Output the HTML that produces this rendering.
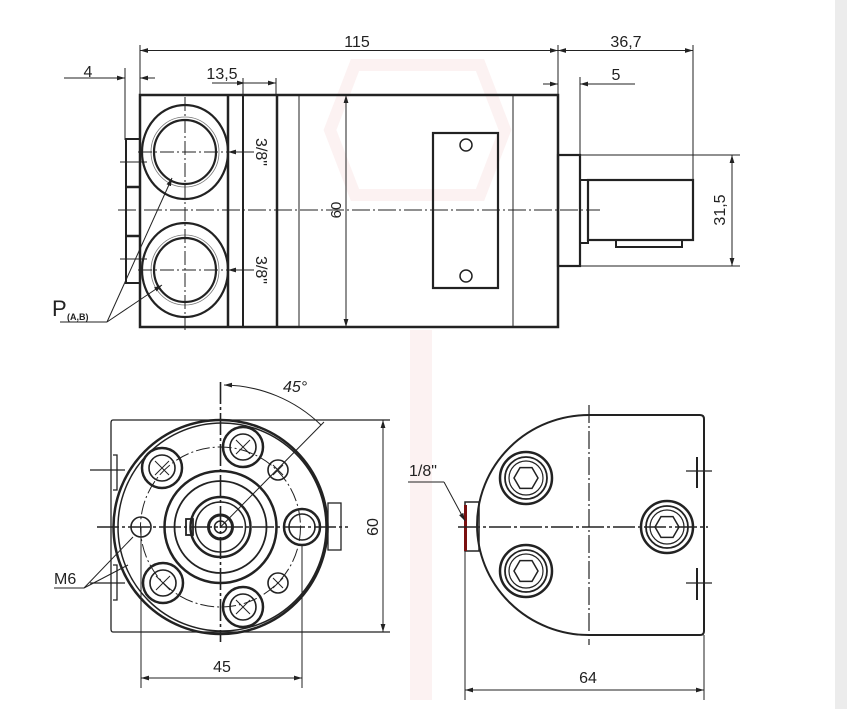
<!DOCTYPE html>
<html><head><meta charset="utf-8"><style>
html,body{margin:0;padding:0;background:#fff;}
svg{display:block}
text{font-family:"Liberation Sans",sans-serif;fill:#222}
</style></head><body>
<svg width="847" height="709" viewBox="0 0 847 709" xmlns="http://www.w3.org/2000/svg">
<defs>
<marker id="a" viewBox="0 0 10 10" refX="10" refY="5" markerWidth="8" markerHeight="8" orient="auto-start-reverse" markerUnits="userSpaceOnUse"><path d="M0,2 L10,5 L0,8z" fill="#222"/></marker>
</defs>
<rect x="0" y="0" width="847" height="709" fill="#fff"/>
<rect x="835" y="0" width="12" height="709" fill="#ececec"/>
<g opacity="0.05" fill="none" stroke="#c00" stroke-width="12">
<path d="M355,65 L480,65 L505,130 L480,195 L355,195 L330,130Z"/>
</g>
<g opacity="0.05" fill="#c00"><rect x="410" y="330" width="22" height="370"/></g>
<g stroke="#222" fill="none" stroke-linecap="butt">
<line x1="140" y1="45" x2="140" y2="95" stroke-width="1"/>
<line x1="558" y1="45" x2="558" y2="95" stroke-width="1"/>
<line x1="693" y1="45" x2="693" y2="181" stroke-width="1"/>
<line x1="140" y1="50.5" x2="558" y2="50.5" stroke-width="1" marker-start="url(#a)" marker-end="url(#a)"/>
<line x1="558" y1="50.5" x2="693" y2="50.5" stroke-width="1" marker-start="url(#a)" marker-end="url(#a)"/>
<line x1="125" y1="68" x2="125" y2="140" stroke-width="1"/>
<line x1="64" y1="78" x2="125" y2="78" stroke-width="1" marker-end="url(#a)"/>
<line x1="155" y1="78" x2="140" y2="78" stroke-width="1" marker-end="url(#a)"/>
<line x1="212" y1="83" x2="245" y2="83" stroke-width="1" marker-end="url(#a)"/>
<line x1="260" y1="83" x2="245" y2="83" stroke-width="1"/>
<line x1="260" y1="83" x2="276" y2="83" stroke-width="1" marker-end="url(#a)"/>
<line x1="243" y1="78" x2="243" y2="95" stroke-width="1"/>
<line x1="276" y1="78" x2="276" y2="95" stroke-width="1"/>
<line x1="543" y1="84" x2="558" y2="84" stroke-width="1" marker-end="url(#a)"/>
<line x1="635" y1="84" x2="580" y2="84" stroke-width="1" marker-end="url(#a)"/>
<line x1="580" y1="77" x2="580" y2="155" stroke-width="1"/>
<rect x="140" y="95" width="418" height="232" stroke-width="2.5"/>
<line x1="228" y1="95" x2="228" y2="327" stroke-width="2.5"/>
<line x1="243" y1="95" x2="243" y2="327" stroke-width="2"/>
<line x1="277" y1="95" x2="277" y2="327" stroke-width="2.5"/>
<line x1="299" y1="95" x2="299" y2="327" stroke-width="1"/>
<line x1="513" y1="95" x2="513" y2="327" stroke-width="1"/>
<path d="M140,139 L126,139 L126,283 L140,283" stroke-width="2"/>
<line x1="126" y1="187" x2="140" y2="187" stroke-width="2.5"/>
<line x1="126" y1="236" x2="140" y2="236" stroke-width="2.5"/>
<line x1="120" y1="162" x2="147" y2="162" stroke-width="1"/>
<line x1="120" y1="259" x2="147" y2="259" stroke-width="1"/>
<ellipse cx="185" cy="152" rx="43" ry="47" stroke-width="2.2"/>
<ellipse cx="185" cy="152" rx="31" ry="32" stroke-width="2.2"/>
<ellipse cx="185" cy="152" rx="34" ry="35" stroke-width="0.8" stroke="#777"/>
<ellipse cx="185" cy="270" rx="43" ry="47" stroke-width="2.2"/>
<ellipse cx="185" cy="270" rx="31" ry="32" stroke-width="2.2"/>
<ellipse cx="185" cy="270" rx="34" ry="35" stroke-width="0.8" stroke="#777"/>
<line x1="185" y1="97" x2="185" y2="330" stroke-width="1" stroke-dasharray="14,3,2,3"/>
<line x1="138" y1="152" x2="228" y2="152" stroke-width="1" stroke-dasharray="14,3,2,3"/>
<line x1="138" y1="270" x2="228" y2="270" stroke-width="1" stroke-dasharray="14,3,2,3"/>
<line x1="254" y1="152" x2="228" y2="152" stroke-width="1" marker-end="url(#a)"/>
<line x1="254" y1="270" x2="228" y2="270" stroke-width="1" marker-end="url(#a)"/>
<line x1="60" y1="322" x2="107" y2="322" stroke-width="1"/>
<line x1="107" y1="322" x2="172" y2="178" stroke-width="1" marker-end="url(#a)"/>
<line x1="107" y1="322" x2="162" y2="285" stroke-width="1" marker-end="url(#a)"/>
<line x1="118" y1="210" x2="600" y2="210" stroke-width="1" stroke-dasharray="18,3,2,3"/>
<line x1="346" y1="95" x2="346" y2="327" stroke-width="1" marker-start="url(#a)" marker-end="url(#a)"/>
<rect x="433" y="133" width="65" height="155" stroke-width="2.2"/>
<circle cx="466" cy="145" r="6" stroke-width="1.5"/>
<circle cx="466" cy="276" r="6" stroke-width="1.5"/>
<rect x="558" y="155" width="22" height="111" stroke-width="2.2"/>
<rect x="580" y="180" width="8" height="63" stroke-width="2"/>
<rect x="588" y="180" width="105" height="60" stroke-width="2.2"/>
<rect x="616" y="240" width="66" height="7" stroke-width="2"/>
<line x1="580" y1="155" x2="740" y2="155" stroke-width="1"/>
<line x1="580" y1="266" x2="740" y2="266" stroke-width="1"/>
<line x1="732" y1="155" x2="732" y2="266" stroke-width="1" marker-start="url(#a)" marker-end="url(#a)"/>

<path d="M390,420 L113,420 Q111,420 111,423 L111,629 Q111,632 113,632 L390,632" stroke-width="1.3"/>
<path d="M113,455 L117,455 L117,490 L113,490 M113,565 L117,565 L117,600 L113,600" stroke-width="1.3"/>
<line x1="90" y1="470" x2="125" y2="470" stroke-width="1.3"/>
<line x1="90" y1="583" x2="125" y2="583" stroke-width="1.3"/>
<rect x="328" y="503" width="13" height="47" stroke-width="1.3"/>
<circle cx="220.5" cy="527" r="107" stroke-width="2.5"/>
<circle cx="222" cy="527" r="104" stroke-width="1.5"/>
<circle cx="220.5" cy="527" r="80" stroke-width="1" stroke-dasharray="14,3,2,3"/>
<circle cx="220.5" cy="527" r="56" stroke-width="2.5"/>
<circle cx="220.5" cy="527" r="46" stroke-width="1.8"/>
<circle cx="220.5" cy="527" r="30" stroke-width="2.5"/>
<circle cx="220.5" cy="527" r="25" stroke-width="1.5"/>
<circle cx="220.5" cy="527" r="12" stroke-width="3"/>
<circle cx="220.5" cy="527" r="6" stroke-width="1.5"/>
<rect x="186" y="519" width="7" height="16" stroke-width="1.8"/>
<g stroke-width="2.5">
<circle cx="162" cy="468" r="20"/><circle cx="243" cy="447" r="20"/>
<circle cx="163" cy="583" r="20"/><circle cx="243" cy="607" r="20"/>
<circle cx="302" cy="527" r="18"/>
</g>
<g stroke-width="1.6">
<circle cx="162" cy="468" r="13"/><circle cx="243" cy="447" r="13"/>
<circle cx="163" cy="583" r="13"/><circle cx="243" cy="607" r="13"/>
<circle cx="302" cy="527" r="13"/>
<circle cx="278" cy="470" r="10"/><circle cx="278" cy="583" r="10"/><circle cx="141" cy="527" r="10"/>
</g>
<g stroke-width="1">
<path d="M155,461 L169,475 M169,461 L155,475 M236,440 L250,454 M250,440 L236,454 M156,576 L170,590 M170,576 L156,590 M236,600 L250,614 M250,600 L236,614 M273,465 L283,475 M283,465 L273,475 M273,578 L283,588 M283,578 L273,588"/>
</g>
<line x1="220.5" y1="382" x2="220.5" y2="642" stroke-width="1.6" stroke-dasharray="22,3,3,3"/>
<line x1="97" y1="527" x2="348" y2="527" stroke-width="1.6" stroke-dasharray="22,3,3,3"/>
<line x1="220.5" y1="527" x2="324" y2="422" stroke-width="1"/>
<path d="M224,385 A142,142 0 0 1 321,425" stroke-width="1" marker-start="url(#a)"/>
<line x1="383" y1="420" x2="383" y2="632" stroke-width="1" marker-start="url(#a)" marker-end="url(#a)"/>
<line x1="141" y1="527" x2="141" y2="688" stroke-width="1"/>
<line x1="302" y1="545" x2="302" y2="688" stroke-width="1"/>
<line x1="141" y1="678" x2="302" y2="678" stroke-width="1" marker-start="url(#a)" marker-end="url(#a)"/>
<line x1="54" y1="588" x2="84" y2="588" stroke-width="1"/>
<line x1="84" y1="588" x2="133" y2="537" stroke-width="1"/>
<line x1="84" y1="588" x2="128" y2="565" stroke-width="1"/>

<path d="M589,415 L700,415 Q704,415 704,419 L704,631 Q704,635 700,635 L589,635 A112,110 0 0 1 589,415" stroke-width="2"/>
<rect x="465" y="502" width="14" height="49" stroke-width="1.5"/>
<line x1="465.5" y1="505" x2="465.5" y2="551" stroke="#7a1010" stroke-width="3"/>
<path d="M697,457 L697,488 M697,568 L697,600" stroke-width="2"/>
<line x1="686" y1="471" x2="712" y2="471" stroke-width="1.3"/>
<line x1="686" y1="583" x2="712" y2="583" stroke-width="1.3"/>
<line x1="589" y1="405" x2="589" y2="645" stroke-width="1.2" stroke-dasharray="18,3,2,3"/>
<line x1="458" y1="527" x2="708" y2="527" stroke-width="1.6" stroke-dasharray="22,3,3,3"/>
<g>
<circle cx="526" cy="478" r="26" stroke-width="2.5"/><circle cx="526" cy="478" r="21" stroke-width="1.8"/><circle cx="526" cy="478" r="17" stroke-width="1.2"/>
<polygon points="538,478 532,488.4 520,488.4 514,478 520,467.6 532,467.6" stroke-width="1.5"/>
<circle cx="526" cy="571" r="26" stroke-width="2.5"/><circle cx="526" cy="571" r="21" stroke-width="1.8"/><circle cx="526" cy="571" r="17" stroke-width="1.2"/>
<polygon points="538,571 532,581.4 520,581.4 514,571 520,560.6 532,560.6" stroke-width="1.5"/>
<circle cx="667" cy="527" r="26" stroke-width="2.5"/><circle cx="667" cy="527" r="21" stroke-width="1.8"/><circle cx="667" cy="527" r="17" stroke-width="1.2"/>
<polygon points="679,527 673,537.4 661,537.4 655,527 661,516.6 673,516.6" stroke-width="1.5"/>
</g>
<line x1="408" y1="482" x2="444" y2="482" stroke-width="1"/>
<line x1="444" y1="482" x2="465" y2="521" stroke-width="1" marker-end="url(#a)"/>
<line x1="465" y1="551" x2="465" y2="700" stroke-width="1"/>
<line x1="704" y1="635" x2="704" y2="700" stroke-width="1"/>
<line x1="465" y1="690" x2="704" y2="690" stroke-width="1" marker-start="url(#a)" marker-end="url(#a)"/>
</g>
<g font-size="16">
<text x="357" y="47" text-anchor="middle">115</text>
<text x="626" y="47" text-anchor="middle">36,7</text>
<text x="88" y="77" text-anchor="middle">4</text>
<text x="222" y="79" text-anchor="middle">13,5</text>
<text x="616" y="80" text-anchor="middle">5</text>
<text transform="translate(256,152) rotate(90)" text-anchor="middle">3/8"</text>
<text transform="translate(256,270) rotate(90)" text-anchor="middle">3/8"</text>
<text transform="translate(341,210) rotate(-90)" text-anchor="middle" font-size="15">60</text>
<text transform="translate(725,210) rotate(-90)" text-anchor="middle">31,5</text>
<text x="52" y="316" font-size="22">P</text>
<text x="67" y="320" font-size="9" font-weight="bold">(A,B)</text>
<text x="283" y="392" font-style="italic">45°</text>
<text transform="translate(378,527) rotate(-90)" text-anchor="middle">60</text>
<text x="54" y="584">M6</text>
<text x="222" y="672" text-anchor="middle">45</text>
<text x="409" y="476">1/8"</text>
<text x="588" y="683" text-anchor="middle">64</text>
</g>
</svg>
</body></html>
